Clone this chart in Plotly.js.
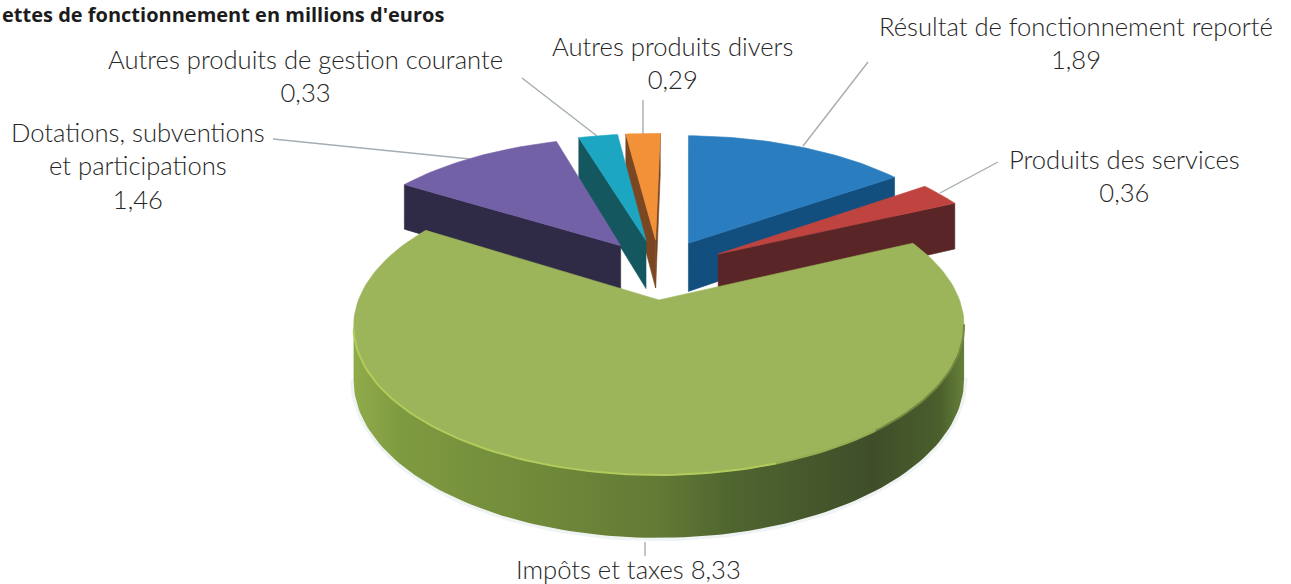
<!DOCTYPE html>
<html>
<head>
<meta charset="utf-8">
<script src="https://cdn.plot.ly/plotly-3.0.1.min.js"></script>
<style>html,body{margin:0;padding:0;background:#fff;overflow:hidden}#chart{width:1291px;height:584px}</style>
</head>
<body>
<div id="chart"></div>
<script>
// ---- data (clockwise from the top of the pie)
const categories = ["Résultat de fonctionnement reporté", "Produits des services", "Impôts et taxes",
                    "Dotations, subventions et participations", "Autres produits de gestion courante", "Autres produits divers"];
const values = [1.89, 0.36, 8.33, 1.46, 0.33, 0.29];
const topColors  = ["#2a7dbf", "#bf4440", "#9db55a", "#7361a8", "#1ca6c2", "#f29138"];
const sideColors = ["#134f7e", "#5a2526", "#6b8238", "#2f2a45", "#14575f", "#7a4722"];
const drawOrder = [5, 4, 0, 3, 1, 2];
const labelLines = [
  ["Résultat de fonctionnement reporté", "1,89"],
  ["Produits des services", "0,36"],
  ["Impôts et taxes 8,33"],
  ["Dotations, subventions", "et participations", "1,46"],
  ["Autres produits de gestion courante", "0,33"],
  ["Autres produits divers", "0,29"]
];
const titleText = "ettes de fonctionnement en millions d'euros";

// ---- label and leader placement
const labelX = [1076, 1124, 628, 138, 305, 672];
const labelY = [42, 175, 569, 165, 75, 62];
const leaderX = [[868, 803], [998, 940], [645, 645], [273, 470], [522, 597], [643, 643]];
const leaderY = [[62, 146], [162, 193], [542, 556], [139, 159], [78, 136], [100, 134]];

// ---- perspective camera of the 3D pie
const CX = 659, SX = 1710, SY = 4670, Y0 = -520.7, DIST = 5.915, HEIGHT = 295;
const EXPLODE = 0.225, ROT = 1;
const sliceShift = [0, 4, 4, 0, 0, 0];   // small sideways pull of the near slices
function project(X, Y, lower, dx) {
  const u = DIST - Y;
  return [CX + (dx || 0) + SX * X / u, Y0 + (SY + (lower ? HEIGHT : 0)) / u];
}
const total = values.reduce((a, b) => a + b, 0);
const rad = d => d * Math.PI / 180;
let acc = ROT;
const slices = values.map((v, i) => {
  const a0 = acc, a1 = acc + v / total * 360; acc = a1;
  const mid = rad((a0 + a1) / 2);
  const ox = EXPLODE * Math.sin(mid), oy = -EXPLODE * Math.cos(mid);
  const dx = sliceShift[i];
  const rimPt = (deg, lower) => project(ox + Math.sin(rad(deg)), oy - Math.cos(rad(deg)), lower, dx);
  const arc = (lower) => { const r = []; const n = Math.max(4, Math.ceil((a1 - a0) / 1.5));
    for (let k = 0; k <= n; k++) r.push(rimPt(a0 + (a1 - a0) * k / n, lower)); return r; };
  return { i, a0, a1, tip: project(ox, oy, false, dx), tipLow: project(ox, oy, true, dx), arc, rimPt };
});
function area(p) { let s = 0; p.forEach((q, k) => { const r = p[(k + 1) % p.length]; s += q[0] * r[1] - r[0] * q[1]; }); return s; }
function poly(pts, color, extra) {
  const xs = pts.map(p => p[0]), ys = pts.map(p => p[1]);
  xs.push(xs[0]); ys.push(ys[0]);
  return Object.assign({ type: "scatter", mode: "lines", x: xs, y: ys, fill: "toself", fillcolor: color,
    line: { width: 0.6, color: color }, hoverinfo: "skip", showlegend: false }, extra || {});
}
function path(pts, color, width) {
  return { type: "scatter", mode: "lines", x: pts.map(p => p[0]), y: pts.map(p => p[1]),
    line: { width: width, color: color, shape: "linear" }, hoverinfo: "skip", showlegend: false };
}

const traces = [];
// leader lines beneath the pie
leaderX.forEach((lx, i) => traces.push(path(lx.map((x, k) => [x, leaderY[i][k]]), "#a4adb3", 1.4)));

drawOrder.forEach(idx => {
  const s = slices[idx];
  const top = s.arc(false), low = s.arc(true);
  const n = top.length - 1;
  // cut faces that look toward the camera
  const faceS = [s.tip, top[0], low[0], s.tipLow];
  const faceE = [s.tip, top[n], low[n], s.tipLow];
  if (area(faceS) < 0) traces.push(poly(faceS, sideColors[idx]));
  if (area(faceE) > 0) traces.push(poly(faceE, sideColors[idx]));
  // outer wall: only the part of the rim running right-to-left faces the viewer
  const front = [];
  for (let k = 0; k < n; k++) if (top[k + 1][0] < top[k][0]) front.push(k);
  if (front.length) {
    const f = front[0], l = front[front.length - 1] + 1;
    const upper = top.slice(f, l + 1), lower = low.slice(f, l + 1).reverse();
    const wall = upper.concat(lower);
    if (idx === 2) {
      const xs = wall.map(p => p[0]);
      const minX = Math.min(...xs), maxX = Math.max(...xs);
      // soft shadow under the wall
      traces.push(path(low.slice(f, l + 1), "rgba(150,168,178,0.14)", 7));
      traces.push(poly(wall, sideColors[idx], {
        fillgradient: { type: "horizontal", start: minX, stop: maxX,
          colorscale: [[0, "#8fab4a"], [0.08, "#7e9a40"], [0.3, "#708a3a"], [0.5, "#627a35"],
                       [0.62, "#4f6530"], [0.85, "#3f4e29"], [0.96, "#4a5f2c"], [1, "#66803a"]] },
        line: { width: 0 }
      }));
    } else traces.push(poly(wall, sideColors[idx]));
  }
  // top face
  traces.push(poly([s.tip].concat(top), topColors[idx]));
  if (idx === 2) {
    // bevel along the near rim of the big slice
    const near = front.map(k => top[k]);
    const a = near.findIndex(p => p[0] < 880);
    const b = near.findIndex(p => p[0] < 780);
    traces.push(path(near.slice(b), "#b2cc5c", 2));
    traces.push(path(near.slice(a, b + 1), "#94ab50", 2));
    traces.push(path(near.slice(0, a + 1), "#74893f", 2));
  }
});

const annotations = categories.map((c, i) => ({
  x: labelX[i], y: labelY[i], xref: "x", yref: "y", xanchor: "center", yanchor: "middle",
  text: labelLines[i].join("<br>"), showarrow: false, align: "center",
  font: { family: "Lato, sans-serif", size: 25.6, weight: 300, color: "#262626" }
}));
annotations.push({ x: 0, y: 14, xref: "x", yref: "y", xanchor: "left", yanchor: "middle", showarrow: false,
  text: "<b>" + titleText + "</b>", font: { family: "Open Sans, sans-serif", size: 20, color: "#1c1c1c" } });

Plotly.newPlot("chart", traces, {
  width: 1291, height: 584, margin: { l: 0, r: 0, t: 0, b: 0 },
  paper_bgcolor: "#ffffff", plot_bgcolor: "#ffffff", showlegend: false,
  xaxis: { range: [0, 1291], visible: false, fixedrange: true },
  yaxis: { range: [584, 0], visible: false, fixedrange: true },
  annotations: annotations
}, { displayModeBar: false, staticPlot: true });
</script>
</body>
</html>
